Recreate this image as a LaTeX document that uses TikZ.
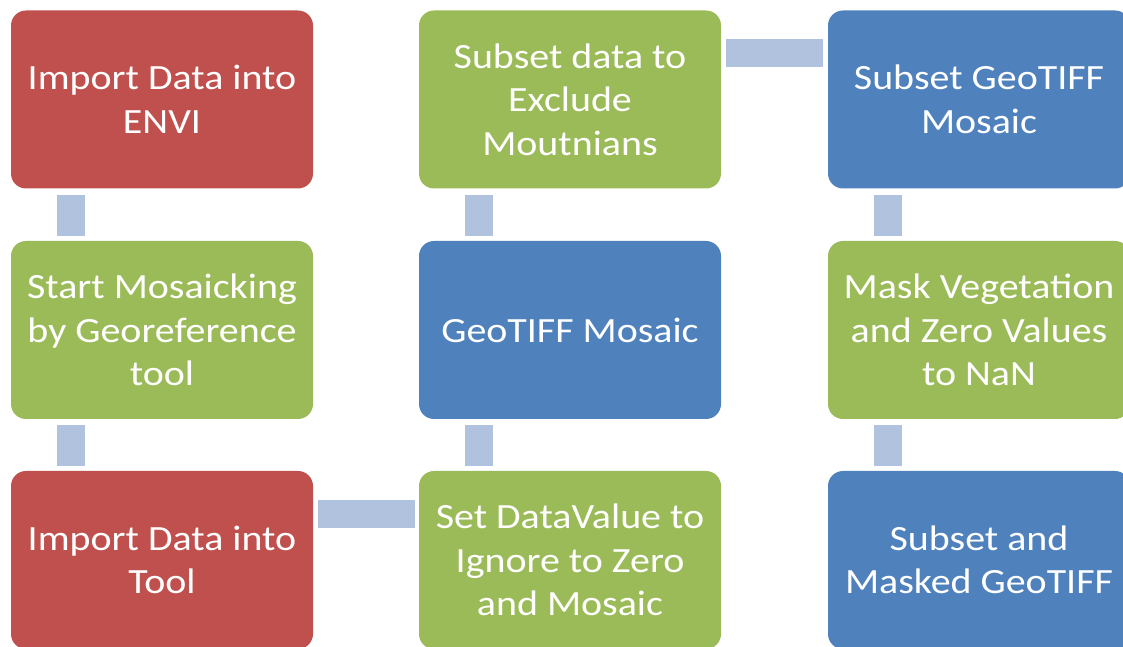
\documentclass[tikz,border=0pt]{standalone}
\usepackage{fontspec}
\setmainfont{Carlito}
\newfontfamily\boxfont[FakeStretch=1.125]{Carlito}
\definecolor{boxred}{HTML}{C0504D}
\definecolor{boxgreen}{HTML}{9BBB59}
\definecolor{boxblue}{HTML}{4F81BD}
\definecolor{linkblue}{HTML}{B0C2DE}
\tikzset{
  stepbox/.style={rectangle, rounded corners=15pt, draw=none, text=white,
    minimum width=302pt, minimum height=178pt, inner sep=0pt, align=center,
    font=\boxfont\fontsize{35.5}{43.5}\selectfont},
  redbox/.style={stepbox, fill=boxred},
  greenbox/.style={stepbox, fill=boxgreen},
  bluebox/.style={stepbox, fill=boxblue},
  link/.style={draw=linkblue, line width=28pt, line cap=butt}
}
\begin{document}
\begin{tikzpicture}[x=1pt,y=1pt]
\useasboundingbox (0,0) rectangle (1123,647);
\clip (0,0) rectangle (1123,647);
\fill[white] (0,0) rectangle (1123,647);
% column 1
\node[redbox]   (envi)   at (162,547.5) {Import Data into\\ENVI};
\node[greenbox] (start)  at (162,317)   {Start Mosaicking\\by Georeference\\tool};
\node[redbox]   (tool)   at (162,87)    {Import Data into\\Tool};
% column 2
\node[greenbox] (setval) at (570,87)    {Set DataValue to\\Ignore to Zero\\and Mosaic};
\node[bluebox]  (mosaic) at (570,317)   {GeoTIFF Mosaic};
\node[greenbox] (excl)   at (570,547.5) {Subset data to\\Exclude\\Moutnians};
% column 3
\node[bluebox]  (subset) at (979,547.5) {Subset GeoTIFF\\Mosaic};
\node[greenbox] (maskv)  at (979,317)   {Mask Vegetation\\and Zero Values\\to NaN};
\node[bluebox]  (final)  at (979,87)    {Subset and\\Masked GeoTIFF};
% connectors
\draw[link] ([xshift=60pt,yshift=-6pt]envi.south west) -- ([xshift=60pt,yshift=5pt]start.north west);
\draw[link] ([xshift=60pt,yshift=-6pt]start.south west) -- ([xshift=60pt,yshift=5pt]tool.north west);
\draw[link] ([xshift=5pt,yshift=-43pt]tool.north east) -- ([xshift=-4pt,yshift=-43pt]setval.north west);
\draw[link] ([xshift=60pt,yshift=5pt]setval.north west) -- ([xshift=60pt,yshift=-6pt]mosaic.south west);
\draw[link] ([xshift=60pt,yshift=5pt]mosaic.north west) -- ([xshift=60pt,yshift=-6pt]excl.south west);
\draw[link] ([xshift=5pt,yshift=-43pt]excl.north east) -- ([xshift=-5pt,yshift=-43pt]subset.north west);
\draw[link] ([xshift=60pt,yshift=-6pt]subset.south west) -- ([xshift=60pt,yshift=5pt]maskv.north west);
\draw[link] ([xshift=60pt,yshift=-6pt]maskv.south west) -- ([xshift=60pt,yshift=5pt]final.north west);
\end{tikzpicture}
\end{document}
